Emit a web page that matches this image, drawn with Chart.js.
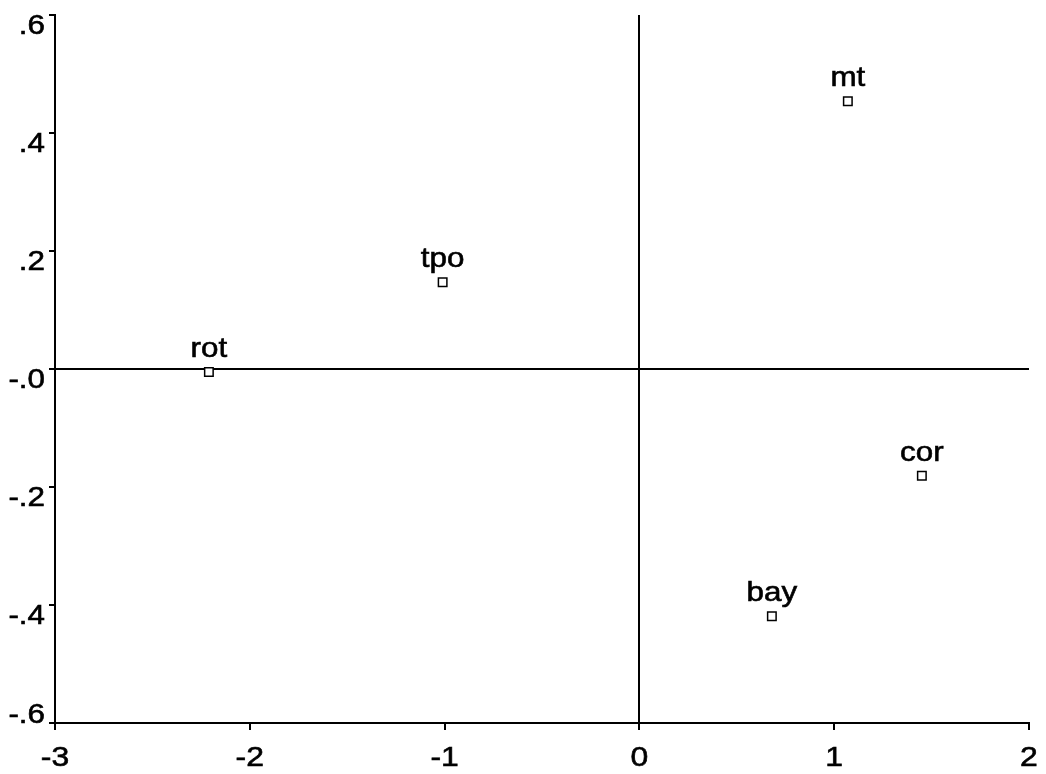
<!DOCTYPE html>
<html>
<head>
<meta charset="utf-8">
<script src="https://cdn.jsdelivr.net/npm/chart.js@4/dist/chart.umd.min.js"></script>
<style>
  html, body { margin: 0; padding: 0; background: #fff; }
  #wrap { width: 1046px; height: 774px; }
</style>
</head>
<body>
<div id="wrap"><canvas id="chart-scatter" width="1046" height="774"></canvas></div>
<script>
// point data
var pointLabels = ["rot", "tpo", "mt", "cor", "bay"];
var xValues = [-2.21, -1.01, 1.07, 1.45, 0.68];
var yValues = [-0.005, 0.147, 0.454, -0.181, -0.419];

var xTicks = [-3, -2, -1, 0, 1, 2];
var yTicks = [-0.6, -0.4, -0.2, 0, 0.2, 0.4, 0.6];

var points = pointLabels.map(function(name, i) {
    return { x: xValues[i], y: yValues[i], name: name };
});

var FONT = "'Liberation Sans', Arial, Helvetica, sans-serif";

function yTickText(v) {
    v = Math.round(v * 10) / 10;
    if (v === 0) return "-.0";
    return (v < 0 ? "-" : "") + Math.abs(v).toFixed(1).replace(/^0/, "");
}

// the original text is a bit wider and heavier than Arial
function wideText(c, text, x, y, align, stretch) {
    c.save();
    c.translate(x, y);
    c.scale(stretch, 1);
    c.textAlign = align;
    c.fillText(text, 0, 0);
    c.lineWidth = 0.6;
    c.strokeText(text, 0, 0);
    c.restore();
}

// tick labels and point names
var textLayer = {
    id: "textLayer",
    afterDatasetsDraw: function(chart) {
        var c = chart.ctx;
        var xs = chart.scales.x, ys = chart.scales.y;
        var area = chart.chartArea;
        c.save();
        c.fillStyle = "#000";
        c.strokeStyle = "#000";
        c.textBaseline = "alphabetic";

        c.font = "28px " + FONT;
        ys.ticks.forEach(function(t) {
            var py = ys.getPixelForValue(t.value);
            wideText(c, yTickText(t.value), area.left - 10, Math.min(py + 19, area.bottom), "right", 1.12);
        });

        c.font = "28px " + FONT;
        xs.ticks.forEach(function(t) {
            wideText(c, String(t.value), xs.getPixelForValue(t.value), area.bottom + 43, "center", 1.14);
        });

        c.font = "28px " + FONT;
        points.forEach(function(p) {
            wideText(c, p.name, xs.getPixelForValue(p.x), ys.getPixelForValue(p.y) - 15, "center", 1.12);
        });
        c.restore();
    }
};

var zeroColor = function(ctx) {
    return ctx.tick && ctx.tick.value === 0 ? "#000" : "rgba(0,0,0,0)";
};

new Chart(document.getElementById("chart-scatter").getContext("2d"), {
    type: "scatter",
    data: {
        datasets: [{
            data: points,
            pointStyle: "rect",
            pointRadius: 6,
            pointHoverRadius: 6,
            backgroundColor: "#fff",
            borderColor: "#000",
            borderWidth: 1.5
        }]
    },
    options: {
        responsive: false,
        animation: false,
        events: [],
        layout: { padding: { top: 15, right: 17, left: 0, bottom: 0 } },
        plugins: { legend: { display: false }, tooltip: { enabled: false } },
        scales: {
            x: {
                type: "linear",
                min: -3,
                max: 2,
                afterBuildTicks: function(scale) {
                    scale.ticks = xTicks.map(function(v) { return { value: v }; });
                },
                afterFit: function(scale) { scale.height = 51; },
                grid: { color: zeroColor, lineWidth: 2, tickColor: "#000", tickLength: 7 },
                border: { display: true, color: "#000", width: 2 },
                ticks: { display: false }
            },
            y: {
                type: "linear",
                min: -0.6,
                max: 0.6,
                afterBuildTicks: function(scale) {
                    scale.ticks = yTicks.map(function(v) { return { value: v }; });
                },
                afterFit: function(scale) { scale.width = 55; },
                grid: { color: zeroColor, lineWidth: 2, tickColor: "#000", tickLength: 6 },
                border: { display: true, color: "#000", width: 2 },
                ticks: { display: false }
            }
        }
    },
    plugins: [textLayer]
});
</script>
</body>
</html>
